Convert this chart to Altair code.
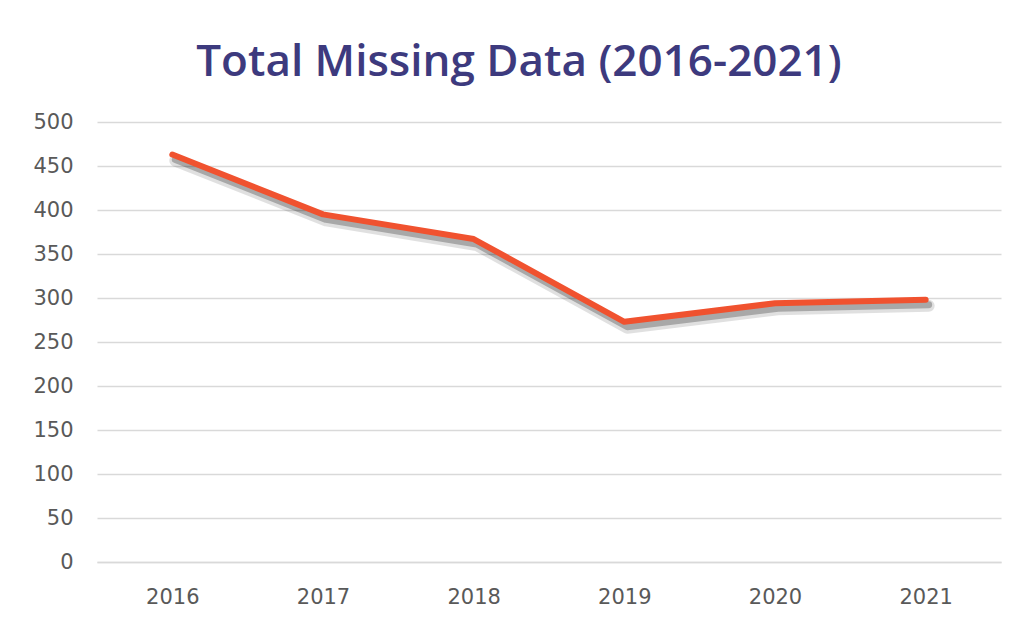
import altair as alt
import pandas as pd

years = ["2016", "2017", "2018", "2019", "2020", "2021"]
missing = [463, 395, 367, 273, 294, 298]
y_ticks = [0, 50, 100, 150, 200, 250, 300, 350, 400, 450, 500]

df = pd.DataFrame({"year": years, "missing": missing})

x = alt.X("year:N", sort=years, title=None,
          scale=alt.Scale(type="point", padding=0.5),
          axis=alt.Axis(labelAngle=0, labelFont="DejaVu Sans", labelFontSize=21,
                        labelColor="#595959", labelPadding=24, ticks=False,
                        domain=True, domainColor="#d9d9d9", domainWidth=1.5,
                        grid=False))
y = alt.Y("missing:Q", title=None,
          scale=alt.Scale(domain=[0, 500], nice=False),
          axis=alt.Axis(values=y_ticks, labelFont="DejaVu Sans", labelFontSize=21,
                        labelColor="#595959", labelPadding=24, ticks=False,
                        domain=False, grid=True, gridColor="#d9d9d9",
                        gridWidth=1.5))

base = alt.Chart(df)

shadow1 = base.mark_line(color="#000000", opacity=0.12, strokeWidth=12,
                         strokeCap="round", strokeJoin="round",
                         xOffset=3, yOffset=6).encode(x=x, y=y)
shadow2 = base.mark_line(color="#000000", opacity=0.25, strokeWidth=7,
                         strokeCap="round", strokeJoin="round",
                         xOffset=3, yOffset=5).encode(x=x, y=y)
line = base.mark_line(color="#F0522F", strokeWidth=6, strokeCap="round",
                      strokeJoin="round").encode(x=x, y=y)

chart = alt.layer(shadow1, shadow2, line).properties(
    width=904, height=440,
    background="white",
    title=alt.TitleParams("Total Missing Data (2016-2021)", font="Open Sans",
                          fontSize=44, fontWeight=600, color="#3D3A7E",
                          anchor="middle", dx=-30, offset=26),
    padding={"left": 89, "top": 114, "right": 8, "bottom": 55},
    autosize=alt.AutoSizeParams(type="none"),
).configure_view(stroke=None, strokeWidth=0)

chart.save("out.html", embed_options={"renderer": "svg", "actions": False})
